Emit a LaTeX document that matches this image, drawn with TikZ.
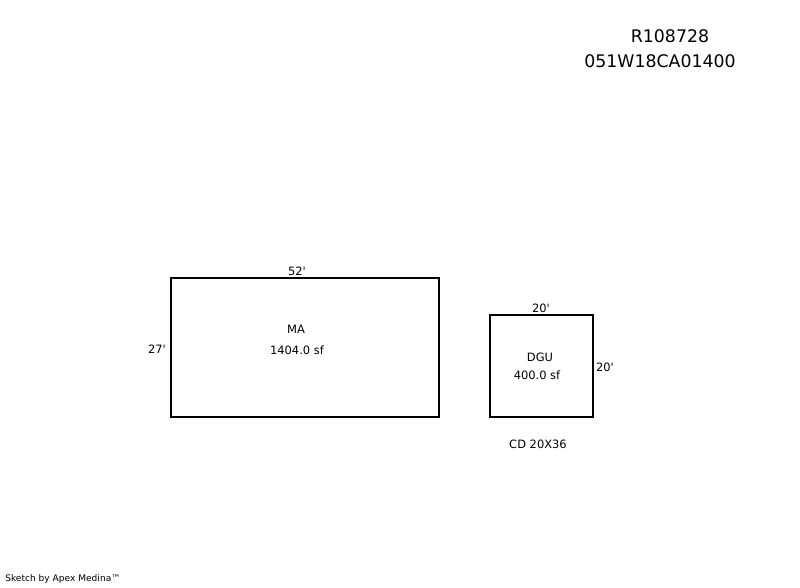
\documentclass[tikz,border=0pt]{standalone}
\usepackage{fontspec}
\setmainfont{DejaVu Sans}
\newfontfamily\sketchfont{DejaVu Sans}
\usetikzlibrary{positioning}

\tikzset{
  room/.style={draw, line width=1.5pt, inner sep=0pt, anchor=north west},
  dim/.style={font=\sketchfont\fontsize{8.6}{10}\selectfont, inner sep=0pt},
  title/.style={font=\sketchfont\fontsize{13}{15}\selectfont, inner sep=0pt}
}

\begin{document}
\begin{tikzpicture}[x=0.75pt, y=-0.75pt]
  \useasboundingbox (0,0) rectangle (800,587);

  % parcel numbers
  \node[title] (parcel) at (670,36) {R108728};
  \node[title] (map) at (660,61) {051W18CA01400};

  % main area
  \node[room, minimum width=268*0.75pt, minimum height=139*0.75pt] (ma) at (169.5,276.5) {};
  \node[dim] (matop) at (297,271) {52'};
  \node[dim] (maside) at (157,349) {27'};
  \node[dim] (maname) at (296,329) {MA};
  \node[dim] (maarea) at (297,350) {1404.0 sf};

  % garage
  \node[room, minimum width=103*0.75pt, minimum height=102*0.75pt] (dgu) at (488.5,313.5) {};
  \node[dim] (dgutop) at (541,308) {20'};
  \node[dim] (duside) at (605,367) {20'};
  \node[dim] (duname) at (540,357) {DGU};
  \node[dim] (duarea) at (537,375) {400.0 sf};
  \node[dim] (cd) at (538,444) {CD 20X36};

  \node[font=\sketchfont\fontsize{6.8}{8}\selectfont, inner sep=0pt, anchor=west] (credit) at (5,579) {Sketch by Apex Medina™};
\end{tikzpicture}
\end{document}
